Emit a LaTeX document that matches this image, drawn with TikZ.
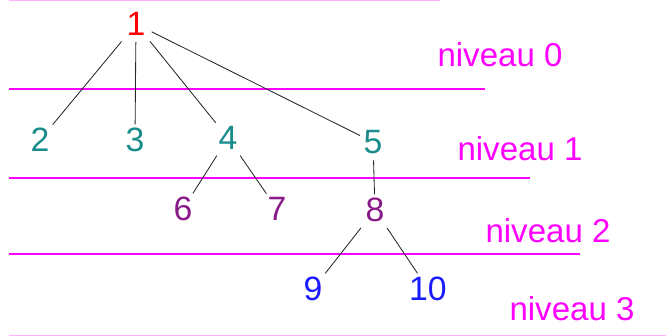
\documentclass[tikz,border=0pt]{standalone}
\usepackage{fontspec}
\setmainfont{Liberation Sans}
\usetikzlibrary{positioning}
\definecolor{rouge}{HTML}{FF0000}
\definecolor{sarcelle}{HTML}{1A8C8C}
\definecolor{violet}{HTML}{881A88}
\definecolor{bleu}{HTML}{1A1AFF}
\definecolor{rose}{HTML}{FF00FF}
\definecolor{rosePale}{HTML}{FFB0FF}
\begin{document}
\begin{tikzpicture}[x=0.025cm,y=-0.025cm,
  num/.style={font=\fontsize{24}{28}\selectfont, inner sep=2pt},
  niv/.style={font=\fontsize{23.5}{26}\selectfont, text=rose},
  lien/.style={line width=0.6pt, black!85, shorten <=2.5pt, shorten >=0.5pt}]
\useasboundingbox (0,0) rectangle (666,336);
% lignes de niveau
\draw[rosePale,line width=1.2pt] (9,0.5)--(440,0.5);
\draw[rosePale,line width=1.2pt] (9,335.5)--(666,335.5);
\foreach \y/\xf in {89/485,178/530,254/580} \draw[rose,line width=1.3pt] (9,\y)--(\xf,\y);
% noeuds
\node[num,text=rouge] (n1) at (136,24) {1};
\node[num,text=sarcelle] (n2) at (40,140) {2};
\node[num,text=sarcelle] (n3) at (135,140) {3};
\node[num,text=sarcelle] (n4) at (228,138) {4};
\node[num,text=sarcelle] (n5) at (373,142) {5};
\node[num,text=violet] (n6) at (183,209) {6};
\node[num,text=violet] (n7) at (277,209) {7};
\node[num,text=violet] (n8) at (375,210) {8};
\node[num,text=bleu] (n9) at (313,289) {9};
\node[num,text=bleu] (n10) at (428,289) {10};
% etiquettes
\node[niv] (l0) at (500,55) {niveau 0};
\node[niv] (l1) at (520,149) {niveau 1};
\node[niv] (l2) at (548,231) {niveau 2};
\node[niv] (l3) at (572,309) {niveau 3};
% aretes
\foreach \a/\b in {n1/n2,n1/n3,n1/n4,n1/n5,n4/n6,n4/n7,n5/n8,n8/n9,n8/n10}
  \draw[lien] (\a) -- (\b);
\end{tikzpicture}
\end{document}
